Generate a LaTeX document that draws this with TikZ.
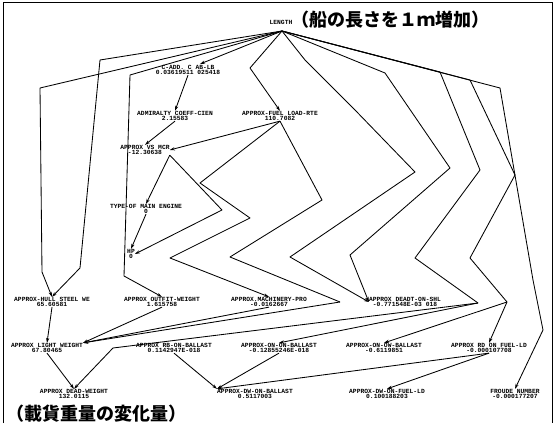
\documentclass[tikz,border=0pt]{standalone}
\usepackage{fontspec}
\setmonofont{Liberation Mono}
\newfontfamily\jpfont{Noto Sans CJK JP}
\usetikzlibrary{arrows.meta}
\begin{document}
\begin{tikzpicture}[x=1pt,y=-1pt,
  lbl/.style={font=\ttfamily\bfseries\fontsize{6.3}{5.6}\selectfont, align=center, inner sep=0pt},
  jp/.style={font=\jpfont\bfseries\fontsize{18}{18}\selectfont, inner sep=0pt},
  ln/.style={line width=0.85pt, line join=round},
  arr/.style={ln,-{Stealth[length=5pt,width=3.2pt]}}]
\useasboundingbox (0,0) rectangle (555,425);
\draw[line width=0.9pt] (3,423) -- (3,2) -- (552,2) -- (552,423);
% nodes
\node[lbl] (len) at (281,22) {LENGTH};
\node[jp, anchor=west] (jtop) at (291,20) {（船の長さを１ｍ増加）};
\node[lbl] (cadd) at (188,70) {C-ADD. C AB-LB\\0.03619511 025418};
\node[lbl] (adm) at (175,116) {ADMIRALTY COEFF-CIEN\\2.15583};
\node[lbl] (fuel) at (280,116) {APPROX-FUEL LOAD-RTE\\110.7082};
\node[lbl] (vs) at (145,150) {APPROX VS MCR\\-12.30638};
\node[lbl] (type) at (146,209) {TYPE-OF MAIN ENGINE\\0};
\node[lbl] (hp) at (131,254) {HP\\0};
\node[lbl] (hull) at (52,302) {APPROX-HULL STEEL WE\\65.60581};
\node[lbl] (outf) at (162,302) {APPROX OUTFIT-WEIGHT\\1.615758};
\node[lbl] (mach) at (269,302) {APPROX.MACHINERY-PRO\\-0.0162667};
\node[lbl] (dead) at (405,302) {APPROX DEADT-ON-SHL\\-0.771548E-03 018};
\node[lbl] (light) at (47,348) {APPROX LIGHT WEIGHT\\67.80465};
\node[lbl] (rb) at (174,348) {APPROX RB-ON-BALLAST\\0.1142947E-018};
\node[lbl] (onb) at (279,348) {APPROX-ON-ON-BALLAST\\-0.12855246E-018};
\node[lbl] (onow) at (384,348) {APPROX-ON-OW-BALLAST\\-0.6119851};
\node[lbl] (rdf) at (489,348) {APPROX RD ON FUEL-LD\\-0.000107708};
\node[lbl] (dw) at (74,394) {APPROX DEAD-WEIGHT\\132.0115};
\node[lbl] (dwb) at (255,394) {APPROX-DW-ON-BALLAST\\0.5117003};
\node[lbl] (dwf) at (387,394) {APPROX-DW-ON-FUEL-LD\\0.100188203};
\node[lbl] (fr) at (515,394) {FROUDE NUMBER\\-0.000177207};
\node[jp, anchor=west] (jbot) at (6,414) {（載貨重量の変化量）};
% connectors
\coordinate (ap) at (282,31);
\coordinate (k1) at (340,302);
\coordinate (k2) at (478,303);
\coordinate (k3) at (507,302);
\draw[arr] (ap) -- (40,88) -- (42,272) -- (hull.north);
\draw[arr] (ap) -- (100,60) -- (80,268) -- (hull.north);
\draw[arr] (ap) -- (200,64);
\draw[arr] (ap) -- (130,75) -- (124,276) -- (outf.north);
\draw[arr] (ap) -- (250,68) -- (fuel.north);
\draw[arr] (cadd.south) -- (adm.north);
\draw[arr] (adm.south) -- (vs.north);
\draw[arr] (fuel.south) -- (vs.east);
\draw[arr] (vs.south east) -- (type.north);
\draw[arr] (type.south) -- (hp.north);
\draw[arr] (vs.south east) -- (222,210) -- (hp.east);
% zigzag chains
\draw[arr] (fuel.south) -- (200,183) -- (250,218) -- (170,258) -- (mach.north);
\draw[ln] (fuel.south) -- (322,200) -- (230,257) -- (k1);
\draw[arr] (k1) -- (light.north east);
\draw[arr] (ap) -- (305,60) -- (355,110) -- (415,172) -- (290,257) -- (dead.west);
\draw[arr] (ap) -- (385,73) -- (450,168) -- (350,255) -- (dead.west);
\draw[ln] (ap) -- (440,72) -- (480,170) -- (415,258) -- (k2);
\draw[arr] (k2) -- (onb.north);
\draw[arr] (k2) -- (113,348) -- (dw.north);
\draw[ln] (ap) -- (470,80) -- (515,175) -- (470,258) -- (k3);
\draw[arr] (k3) -- (rdf.north);
\draw[arr] (k3) -- (onow.north);
\draw[arr] (ap) -- (500,88) -- (533,280) -- (543,330) -- (fr.north);
% lower connectors
\draw[arr] (hull.south) -- (light.north);
\draw[arr] (outf.south) -- (light.north east);
\draw[arr] (mach.south) -- (light.north east);
\draw[arr] (light.south) -- (dw.north);
\draw[arr] (rb.south) -- (dwb.north west);
\draw[arr] (onb.south) -- (dwb.north west);
\draw[arr] (rdf.south) -- (dwb.north west);
\draw[arr] (rdf.south) -- (dwf.north);
\end{tikzpicture}
\end{document}
